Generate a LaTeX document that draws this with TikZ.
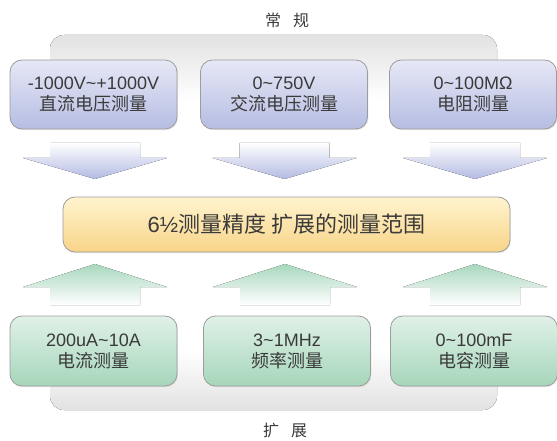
\documentclass[tikz,border=0pt]{standalone}
\usepackage{fontspec}
\setmainfont{Liberation Sans}
\newfontfamily\cjk{Noto Sans CJK SC}
\usetikzlibrary{shadows}
\definecolor{txt}{HTML}{3A3A3A}
\definecolor{bordc}{HTML}{9C9C9C}
\definecolor{blueT}{HTML}{E6E8F6}
\definecolor{blueB}{HTML}{B6BDE2}
\definecolor{yelT}{HTML}{FFF4CF}
\definecolor{yelB}{HTML}{F8D488}
\definecolor{grnT}{HTML}{E0F1E8}
\definecolor{grnB}{HTML}{A6D6BA}
\definecolor{brk}{HTML}{E2E2E2}
\definecolor{arrB}{HTML}{B3BAE2}
\definecolor{arrG}{HTML}{A8D7BD}
\tikzset{
  basebox/.style={draw=bordc, line width=0.8pt, rounded corners=12pt, align=center,
    text=txt, inner sep=0pt,
    drop shadow={opacity=0.18, shadow xshift=0.8pt, shadow yshift=-1.2pt}},
  topbox/.style={basebox, top color=blueT, bottom color=blueB,
    minimum width=167pt, minimum height=69pt, font=\fontsize{18}{22}\selectfont},
  botbox/.style={basebox, top color=grnT, bottom color=grnB,
    minimum width=167pt, minimum height=70pt, font=\fontsize{18}{22}\selectfont},
  midbox/.style={basebox, top color=yelT, bottom color=yelB,
    minimum width=447pt, minimum height=55pt, font=\fontsize{22}{26}\selectfont},
  lbl/.style={text=txt, font=\cjk\fontsize{16}{18}\selectfont, inner sep=0pt},
  downarr/.style={top color=white, bottom color=arrB, draw=none},
  uparr/.style={top color=arrG, bottom color=white, draw=none},
}
\newcommand{\darrow}[2]{% center x, tip y
  \fill[downarr] (#1-45,143) -- (#1+45,143) -- (#1+45,158) -- (#1+72,158) -- (#1,179) -- (#1-72,158) -- (#1-45,158) -- cycle;}
\newcommand{\uarrow}[1]{%
  \fill[uparr] (#1,264) -- (#1+72,287) -- (#1+45,287) -- (#1+45,305) -- (#1-45,305) -- (#1-45,287) -- (#1-72,287) -- cycle;}
\begin{document}
\begin{tikzpicture}[x=1pt,y=-1pt]
\useasboundingbox (0,0) rectangle (557,441);
% brackets
\fill[top color=brk, bottom color=white, rounded corners=14pt] (50,35) rectangle (497,100);
\fill[top color=white, bottom color=brk, rounded corners=14pt] (50,350) rectangle (497,410);
\node[lbl] (ltop) at (287,20) {常\hspace{12pt}规};
\node[lbl] (lbot) at (285,430) {扩\hspace{12pt}展};
% arrows
\darrow{95}{179}
\darrow{284.5}{179}
\darrow{475}{179}
\uarrow{95}
\uarrow{285}
\uarrow{475}
% boxes
\node[topbox] (t1) at (93.5,94.5) {-1000V\textasciitilde+1000V\\[-1pt]{\cjk 直流电压测量}};
\node[topbox] (t2) at (284,94.5) {0\textasciitilde750V\\[-1pt]{\cjk 交流电压测量}};
\node[topbox] (t3) at (473,94.5) {0\textasciitilde100M\symbol{"03A9}\\[-1pt]{\cjk 电阻测量}};
\node[midbox] (m) at (286.5,224.5) {6½{\cjk 测量精度 扩展的测量范围}};
\node[botbox] (b1) at (93.5,351) {200uA\textasciitilde10A\\[-1pt]{\cjk 电流测量}};
\node[botbox] (b2) at (287,351) {3\textasciitilde1MHz\\[-1pt]{\cjk 频率测量}};
\node[botbox] (b3) at (474,351) {0\textasciitilde100mF\\[-1pt]{\cjk 电容测量}};
\end{tikzpicture}
\end{document}
